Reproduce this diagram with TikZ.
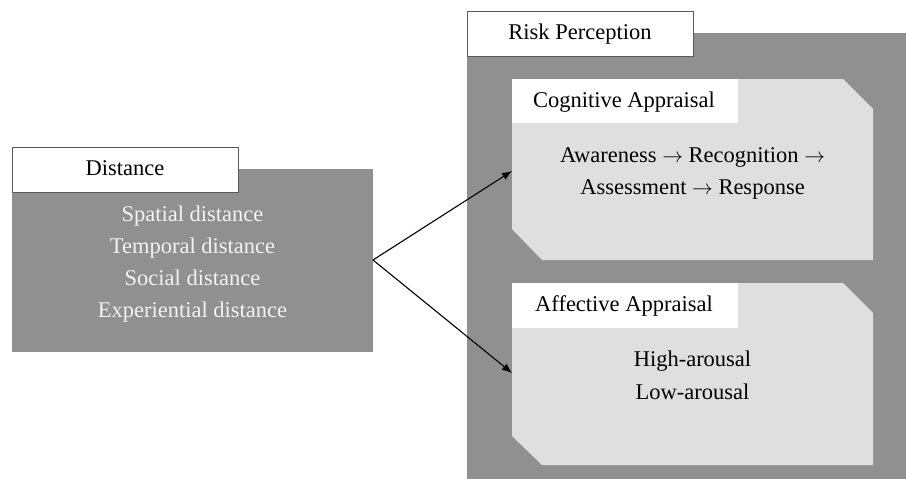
\documentclass[tikz,border=0pt]{standalone}
\usepackage{fontspec}
\setmainfont{Liberation Serif}
\usetikzlibrary{arrows.meta}
\definecolor{darkbox}{HTML}{909090}
\definecolor{lightbox}{HTML}{DFDFDF}
\definecolor{edge}{HTML}{5A5A5A}
\definecolor{paletext}{HTML}{F2F2F2}
\newcommand{\arr}{ $\rightarrow$ }
\begin{document}
\begin{tikzpicture}[x=1pt,y=-1pt,
  txt/.style={font=\fontsize{22.5}{26}\selectfont, inner sep=0pt, anchor=center, text height=15pt, text depth=5pt},
  labelbox/.style={fill=white, draw=edge, line width=0.8pt},
  conn/.style={draw=black, line width=1.1pt, -{Latex[length=10pt,width=8pt]}}]
\useasboundingbox (0,0) rectangle (906,479);
% Distance group
\fill[darkbox] (12,169) rectangle (373,352);
\draw[labelbox] (12,147) rectangle (238,192);
\node[txt] (distlbl) at (125,170) {Distance};
\node[txt, text=paletext] (d1) at (192.5,216) {Spatial distance};
\node[txt, text=paletext] (d2) at (192.5,248) {Temporal distance};
\node[txt, text=paletext] (d3) at (192.5,280) {Social distance};
\node[txt, text=paletext] (d4) at (192.5,312) {Experiential distance};
\coordinate (src) at (373,260);
% Risk perception group
\fill[darkbox] (467,33) rectangle (906,479);
\draw[labelbox] (467,11) rectangle (693,56);
\node[txt] (risklbl) at (580,34) {Risk Perception};
% Cognitive appraisal
\fill[lightbox] (512,79) -- (843,79) -- (873,109) -- (873,260) -- (542,260) -- (512,229) -- cycle;
\fill[white] (512,79) rectangle (738,123);
\node[txt] (coglbl) at (624,102) {Cognitive Appraisal};
\node[txt] (c1) at (692.5,157) {Awareness\arr Recognition\arr\unskip};
\node[txt] (c2) at (692.5,189) {Assessment\arr Response};
\coordinate (cogin) at (512,171);
% Affective appraisal
\fill[lightbox] (512,283) -- (843,283) -- (873,313) -- (873,465) -- (542,465) -- (512,436) -- cycle;
\fill[white] (512,283) rectangle (738,328);
\node[txt] (afflbl) at (624,306) {Affective Appraisal};
\node[txt] (a1) at (692.5,361) {High-arousal};
\node[txt] (a2) at (692.5,394) {Low-arousal};
\coordinate (affin) at (512,373);
% connectors
\draw[conn] (src) -- (cogin);
\draw[conn] (src) -- (affin);
\end{tikzpicture}
\end{document}
